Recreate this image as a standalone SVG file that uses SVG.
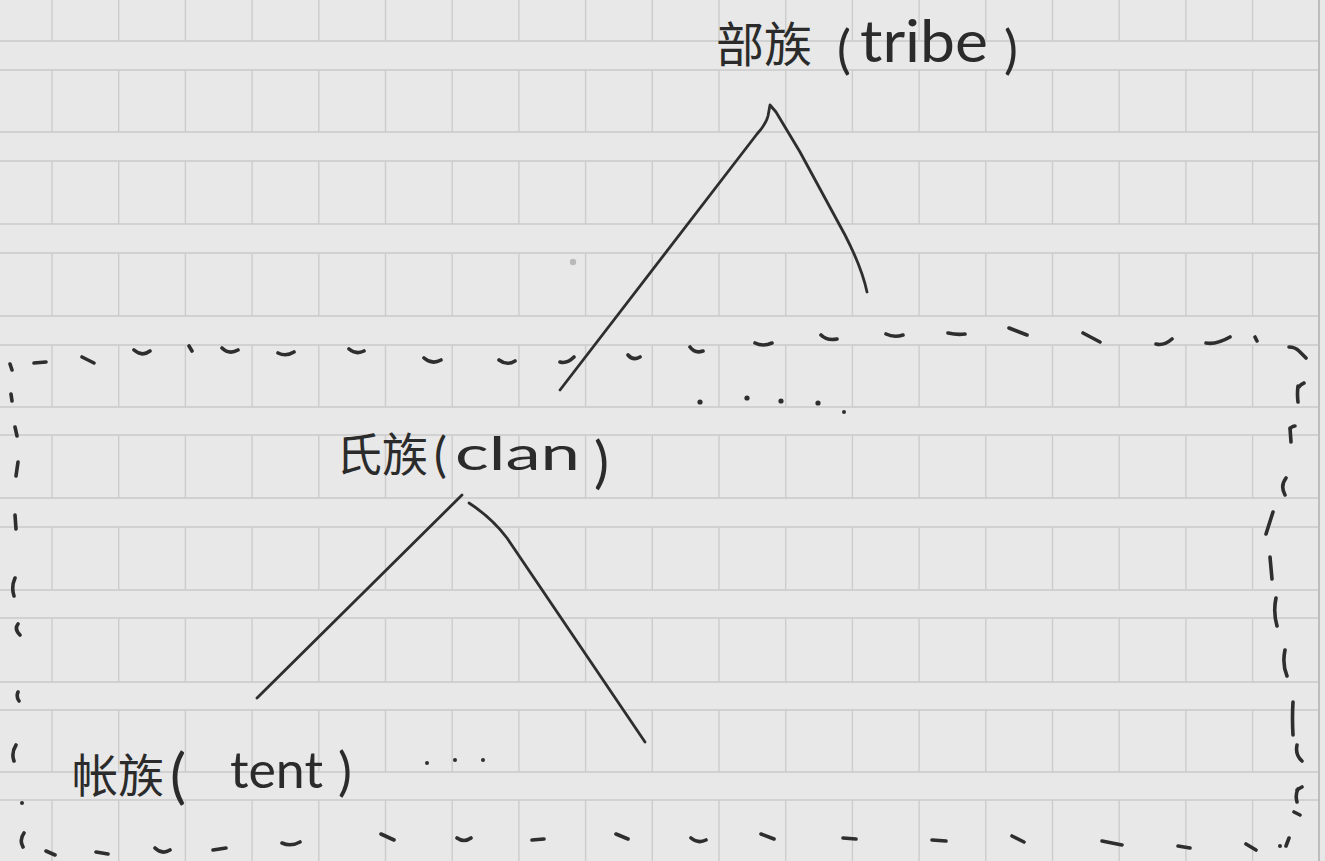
<svg xmlns="http://www.w3.org/2000/svg" width="1325" height="861" viewBox="0 0 1325 861">
<defs>
<style>
.h{stroke:#c9c9c9;stroke-width:1.6;fill:none}
.v{stroke:#cccccc;stroke-width:1.4;fill:none}
.ink{stroke:#2e2e2e;stroke-width:2.8;fill:none;stroke-linecap:round;stroke-linejoin:round}
.dash{stroke:#2e2e2e;stroke-width:3.6;fill:none;stroke-linecap:round;stroke-linejoin:round}
.cjk{font-family:"Noto Sans CJK SC","Noto Sans CJK JP",sans-serif;font-weight:400;fill:#2b2b2b}
.lat{font-family:Lato,"Open Sans","Liberation Sans",sans-serif;font-weight:400;fill:#2b2b2b}
</style>
</defs>
<rect x="0" y="0" width="1325" height="861" fill="#e8e8e8"/>
<g id="paper">
<path class="h" d="M0,41H1319M0,70H1319M0,132H1319M0,161H1319M0,224H1319M0,253H1319M0,316H1319M0,345H1319M0,407H1319M0,435H1319M0,498H1319M0,527H1319M0,590H1319M0,618H1319M0,682H1319M0,710H1319M0,772H1319M0,800H1319"/>
<path class="v" d="M52,0V41M118.7,0V41M185.4,0V41M252.1,0V41M318.8,0V41M385.5,0V41M452.2,0V41M518.9,0V41M585.6,0V41M652.3,0V41M719,0V41M785.7,0V41M852.4,0V41M919.1,0V41M985.8,0V41M1052.5,0V41M1119.2,0V41M1185.9,0V41M1252.6,0V41"/>
<path class="v" d="M52,70V132M118.7,70V132M185.4,70V132M252.1,70V132M318.8,70V132M385.5,70V132M452.2,70V132M518.9,70V132M585.6,70V132M652.3,70V132M719,70V132M785.7,70V132M852.4,70V132M919.1,70V132M985.8,70V132M1052.5,70V132M1119.2,70V132M1185.9,70V132M1252.6,70V132"/>
<path class="v" d="M52,161V224M118.7,161V224M185.4,161V224M252.1,161V224M318.8,161V224M385.5,161V224M452.2,161V224M518.9,161V224M585.6,161V224M652.3,161V224M719,161V224M785.7,161V224M852.4,161V224M919.1,161V224M985.8,161V224M1052.5,161V224M1119.2,161V224M1185.9,161V224M1252.6,161V224"/>
<path class="v" d="M52,253V316M118.7,253V316M185.4,253V316M252.1,253V316M318.8,253V316M385.5,253V316M452.2,253V316M518.9,253V316M585.6,253V316M652.3,253V316M719,253V316M785.7,253V316M852.4,253V316M919.1,253V316M985.8,253V316M1052.5,253V316M1119.2,253V316M1185.9,253V316M1252.6,253V316"/>
<path class="v" d="M52,345V407M118.7,345V407M185.4,345V407M252.1,345V407M318.8,345V407M385.5,345V407M452.2,345V407M518.9,345V407M585.6,345V407M652.3,345V407M719,345V407M785.7,345V407M852.4,345V407M919.1,345V407M985.8,345V407M1052.5,345V407M1119.2,345V407M1185.9,345V407M1252.6,345V407"/>
<path class="v" d="M52,435V498M118.7,435V498M185.4,435V498M252.1,435V498M318.8,435V498M385.5,435V498M452.2,435V498M518.9,435V498M585.6,435V498M652.3,435V498M719,435V498M785.7,435V498M852.4,435V498M919.1,435V498M985.8,435V498M1052.5,435V498M1119.2,435V498M1185.9,435V498M1252.6,435V498"/>
<path class="v" d="M52,527V590M118.7,527V590M185.4,527V590M252.1,527V590M318.8,527V590M385.5,527V590M452.2,527V590M518.9,527V590M585.6,527V590M652.3,527V590M719,527V590M785.7,527V590M852.4,527V590M919.1,527V590M985.8,527V590M1052.5,527V590M1119.2,527V590M1185.9,527V590M1252.6,527V590"/>
<path class="v" d="M52,618V682M118.7,618V682M185.4,618V682M252.1,618V682M318.8,618V682M385.5,618V682M452.2,618V682M518.9,618V682M585.6,618V682M652.3,618V682M719,618V682M785.7,618V682M852.4,618V682M919.1,618V682M985.8,618V682M1052.5,618V682M1119.2,618V682M1185.9,618V682M1252.6,618V682"/>
<path class="v" d="M52,710V772M118.7,710V772M185.4,710V772M252.1,710V772M318.8,710V772M385.5,710V772M452.2,710V772M518.9,710V772M585.6,710V772M652.3,710V772M719,710V772M785.7,710V772M852.4,710V772M919.1,710V772M985.8,710V772M1052.5,710V772M1119.2,710V772M1185.9,710V772M1252.6,710V772"/>
<path class="v" d="M52,800V861M118.7,800V861M185.4,800V861M252.1,800V861M318.8,800V861M385.5,800V861M452.2,800V861M518.9,800V861M585.6,800V861M652.3,800V861M719,800V861M785.7,800V861M852.4,800V861M919.1,800V861M985.8,800V861M1052.5,800V861M1119.2,800V861M1185.9,800V861M1252.6,800V861"/>
<path d="M1319,0V861" stroke="#bdbdbd" stroke-width="2" fill="none"/>
<circle cx="573" cy="262" r="3.2" fill="#b9b9b9"/>
</g>
<g id="tribe">
<text class="cjk" x="716" y="62" font-size="48">部族</text>
<text class="lat" x="837" y="68" font-size="52">(</text>
<text class="lat" x="860" y="62" font-size="58" textLength="128" lengthAdjust="spacingAndGlyphs">tribe</text>
<text class="lat" x="1004" y="68" font-size="52">)</text>
</g>
<g id="clan">
<text class="cjk" x="336" y="471" font-size="46">氏族</text>
<text class="lat" x="434" y="472" font-size="48">(</text>
<text class="lat" x="455" y="470" font-size="46" textLength="125" lengthAdjust="spacingAndGlyphs">clan</text>
<text class="lat" x="594" y="482" font-size="56">)</text>
</g>
<g id="tent">
<text class="cjk" x="72" y="792" font-size="46">帐族</text>
<text class="lat" x="170" y="797" font-size="60">(</text>
<text class="lat" x="230" y="788" font-size="50" textLength="93" lengthAdjust="spacingAndGlyphs">tent</text>
<text class="lat" x="338" y="790" font-size="52">)</text>
</g>
<g id="connectors">
<path class="ink" d="M560,390 L757,134 Q766,124 768,116 L770,105 L776,112 L800,152 L845,235 Q862,268 867,292"/>
<path class="ink" d="M257,698 L462,495"/>
<path class="ink" d="M469,503 Q492,518 507,538 L645,742"/>
</g>
<g id="ellipsis" fill="#2e2e2e">
<circle cx="700" cy="402" r="2.6"/>
<circle cx="747" cy="398" r="2.6"/>
<circle cx="781" cy="401" r="2.6"/>
<circle cx="818" cy="403" r="2.6"/>
<circle cx="844" cy="412" r="2"/>
<circle cx="427" cy="763" r="2"/>
<circle cx="455" cy="760" r="2"/>
<circle cx="483" cy="760" r="2"/>
</g>
<g id="boundary">
<path class="dash" d="M10,364l2,6M34,363l12,-1M82,357l12,6M134,350q8,7 16,1M189,346l3,5M222,348q7,7 16,2M278,353q8,4 16,-1M349,349q7,6 15,2M424,358q8,7 17,2M499,360q8,6 16,1M560,362q7,2 14,-5M628,355q5,6 12,2M690,347q5,7 13,4M755,343q8,4 17,0M821,335q6,6 16,4M886,334q8,4 17,1M948,333q9,2 17,1M1009,328l18,7M1083,333l17,9M1156,344q8,2 16,-5M1206,343q10,2 24,-6M1255,337l2,4M1289,347q6,0 10,4M1300,352l6,6"/>
<path class="dash" d="M1298,386q-1,8 0,16M1298,388q3,-4 6,-5M1290,428l1,14M1290,429q2,-3 5,-3M1286,478q-6,8 -1,17M1273,512l-7,22M1270,557l2,22M1276,598q-3,14 1,28M1285,650q-3,14 2,26M1293,702q-1,16 0,33M1297,745q-2,10 5,16M1298,789q-3,6 -1,13M1297,790q3,-2 5,-3M1294,812l6,3M1289,838l-3,8"/>
<path class="dash" d="M1246,844l10,6M1178,846l12,2M1102,841q10,2 20,4M1012,836l12,6M932,840l14,1M843,838l13,1M761,834l13,5M691,838q7,6 15,2M616,834l12,5M532,840l12,-1M457,838q7,5 14,0M381,834l13,6M282,843q9,4 18,-1M213,850l13,-2M155,848q7,7 15,2M96,852l12,2M46,851l9,4M24,833q-5,7 -1,14"/>
<path class="dash" d="M16,745q-5,8 -2,16M18,692q-2,5 1,9M18,624q-4,5 2,11M15,578q-4,9 -1,18M15,515l1,14M18,462l-2,14M15,427l2,9M11,394l1,7"/>
<circle cx="1280" cy="846" r="2" fill="#2e2e2e"/>
<circle cx="22" cy="803" r="2" fill="#2e2e2e"/>
</g>
</svg>
